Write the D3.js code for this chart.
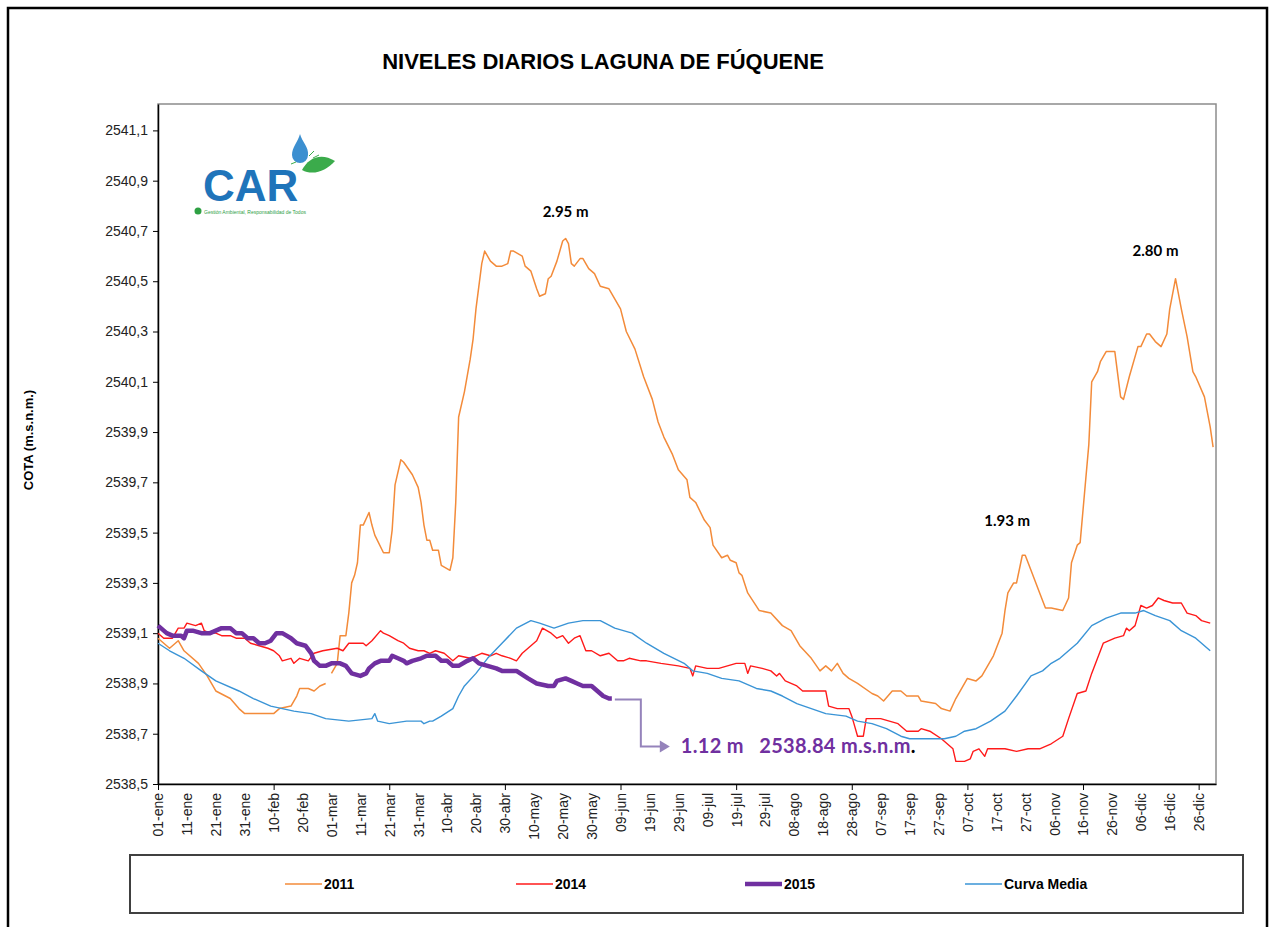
<!DOCTYPE html>
<html>
<head>
<meta charset="utf-8">
<script src="https://cdn.jsdelivr.net/npm/d3@7"></script>
<style>
  body { margin: 0; background: #fff; }
  svg text { font-family: "Liberation Sans", Arial, sans-serif; }
  .narrow { font-family: "Liberation Sans Narrow", "Arial Narrow", "Liberation Sans", sans-serif; }
</style>
</head>
<body>
<div id="chart"></div>
<script>
// dias desde el 01-ene (año bisiesto) y cota en m.s.n.m.
const serie2011 = [[0,2539.08],[4,2539.04],[7,2539.07],[9,2539.03],[14,2538.98],[17,2538.93],[20,2538.87],[25,2538.84],[28,2538.80],[30,2538.78],[34,2538.78],[40,2538.78],[42,2538.80],[46,2538.81],[48,2538.85],[49,2538.88],[52,2538.88],[54,2538.87],[56,2538.89],[58,2538.90],
  [59,null],
  [60,2538.94],[62,2538.98],[63,2539.09],[65,2539.09],[66,2539.18],[67,2539.30],[68,2539.33],[69,2539.38],[70,2539.53],[71,2539.53],[73,2539.58],[74,2539.53],[75,2539.49],[78,2539.42],[80,2539.42],[81,2539.51],[82,2539.69],[84,2539.79],[85,2539.78],[88,2539.73],[90,2539.68],[91,2539.62],[92,2539.53],[93,2539.47],[94,2539.47],[95,2539.43],[97,2539.43],[98,2539.37],[101,2539.35],[102,2539.40],[103,2539.62],[104,2539.96],[106,2540.06],[108,2540.19],[109,2540.27],[110,2540.39],[112,2540.57],[113,2540.62],[115,2540.58],[117,2540.56],[119,2540.56],[121,2540.57],[122,2540.62],[123,2540.62],[126,2540.60],[127,2540.56],[129,2540.54],[131,2540.47],[132,2540.44],[134,2540.45],[135,2540.51],[136,2540.52],[138,2540.58],[140,2540.66],[141,2540.67],[142,2540.65],[143,2540.57],[144,2540.56],[146,2540.59],[147,2540.59],[149,2540.55],[151,2540.53],[153,2540.48],[156,2540.47],[158,2540.43],[160,2540.39],[162,2540.30],[165,2540.23],[168,2540.12],[171,2540.03],[173,2539.94],[175,2539.88],[178,2539.81],[180,2539.75],[183,2539.71],[184,2539.64],[186,2539.62],[189,2539.55],[191,2539.52],[192,2539.45],[195,2539.40],[197,2539.41],[198,2539.39],[200,2539.38],[201,2539.34],[202,2539.33],[204,2539.26],[208,2539.19],[212,2539.18],[216,2539.13],[219,2539.11],[222,2539.05],[226,2539.00],[229,2538.95],[231,2538.97],[233,2538.95],[235,2538.98],[237,2538.94],[239,2538.92],[242,2538.90],[247,2538.86],[249,2538.85],[251,2538.83],[254,2538.87],[257,2538.87],[259,2538.85],[263,2538.85],[264,2538.83],[269,2538.82],[271,2538.80],[274,2538.79],[276,2538.84],[280,2538.92],[283,2538.91],[285,2538.93],[289,2539.01],[292,2539.10],[293,2539.19],[294,2539.26],[296,2539.30],[297,2539.30],[299,2539.41],[300,2539.41],[302,2539.35],[305,2539.26],[307,2539.20],[309,2539.20],[313,2539.19],[315,2539.24],[316,2539.38],[318,2539.45],[319,2539.46],[320,2539.59],[322,2539.85],[323,2540.10],[325,2540.14],[326,2540.18],[328,2540.22],[329,2540.22],[331,2540.22],[333,2540.04],[334,2540.03],[336,2540.12],[339,2540.24],[340,2540.24],[342,2540.29],[343,2540.29],[345,2540.26],[347,2540.24],[349,2540.29],[350,2540.39],[352,2540.51],[354,2540.39],[356,2540.28],[358,2540.14],[359,2540.12],[362,2540.04],[364,2539.92],[365,2539.84]];

const serie2014 = [[0,2539.10],[2,2539.08],[5,2539.08],[7,2539.12],[9,2539.12],[10,2539.14],[13,2539.13],[15,2539.14],[16,2539.11],[18,2539.10],[20,2539.10],[22,2539.09],[25,2539.09],[27,2539.08],[30,2539.08],[32,2539.06],[35,2539.05],[38,2539.04],[40,2539.03],[42,2539.01],[43,2538.99],[46,2539.00],[47,2538.98],[49,2539.00],[52,2538.99],[54,2539.02],[57,2539.03],[62,2539.04],[64,2539.03],[66,2539.06],[69,2539.06],[71,2539.06],[72,2539.05],[74,2539.07],[77,2539.11],[78,2539.10],[80,2539.09],[83,2539.07],[85,2539.06],[87,2539.04],[90,2539.03],[92,2539.03],[94,2539.02],[96,2539.03],[99,2539.02],[101,2539.00],[102,2538.99],[104,2539.01],[108,2539.00],[110,2539.01],[112,2539.02],[115,2539.01],[117,2539.02],[119,2539.01],[122,2539.00],[124,2538.99],[126,2539.02],[129,2539.05],[131,2539.07],[133,2539.12],[136,2539.10],[138,2539.08],[140,2539.09],[142,2539.06],[144,2539.08],[146,2539.09],[148,2539.03],[150,2539.03],[153,2539.01],[156,2539.02],[159,2538.99],[161,2538.99],[163,2539.00],[167,2538.99],[169,2538.99],[174,2538.98],[180,2538.97],[184,2538.96],[185,2538.93],[186,2538.97],[190,2538.96],[194,2538.96],[197,2538.97],[200,2538.98],[203,2538.98],[204,2538.94],[205,2538.97],[209,2538.96],[212,2538.95],[214,2538.93],[215,2538.94],[217,2538.91],[221,2538.89],[223,2538.87],[226,2538.87],[229,2538.87],[231,2538.87],[232,2538.81],[235,2538.80],[239,2538.80],[240,2538.77],[241,2538.73],[242,2538.69],[244,2538.69],[245,2538.76],[250,2538.76],[256,2538.74],[259,2538.71],[263,2538.71],[264,2538.72],[267,2538.71],[271,2538.68],[275,2538.64],[276,2538.59],[279,2538.59],[281,2538.60],[282,2538.63],[284,2538.64],[286,2538.61],[287,2538.64],[293,2538.64],[297,2538.63],[301,2538.64],[305,2538.64],[309,2538.66],[313,2538.69],[315,2538.76],[318,2538.86],[321,2538.87],[323,2538.94],[327,2539.06],[329,2539.07],[331,2539.08],[334,2539.09],[335,2539.12],[336,2539.11],[338,2539.13],[340,2539.21],[342,2539.20],[344,2539.21],[346,2539.24],[348,2539.23],[351,2539.22],[354,2539.22],[356,2539.18],[359,2539.17],[361,2539.15],[364,2539.14]];

const serie2015 = [[0,2539.13],[1,2539.12],[3,2539.10],[5,2539.09],[8,2539.09],[9,2539.08],[10,2539.11],[12,2539.11],[15,2539.10],[18,2539.10],[20,2539.11],[22,2539.12],[25,2539.12],[27,2539.10],[29,2539.10],[31,2539.08],[33,2539.08],[35,2539.06],[37,2539.06],[39,2539.07],[41,2539.10],[43,2539.10],[46,2539.08],[48,2539.06],[51,2539.05],[53,2539.02],[54,2538.99],[56,2538.97],[58,2538.97],[60,2538.98],[63,2538.98],[65,2538.97],[67,2538.94],[70,2538.93],[72,2538.94],[73,2538.96],[75,2538.98],[77,2538.99],[80,2538.99],[81,2539.01],[83,2539.00],[85,2538.99],[86,2538.98],[88,2538.99],[91,2539.00],[93,2539.01],[96,2539.01],[98,2538.99],[100,2538.99],[102,2538.97],[104,2538.97],[107,2538.99],[109,2539.00],[111,2538.98],[114,2538.97],[117,2538.96],[119,2538.95],[122,2538.95],[124,2538.95],[128,2538.92],[131,2538.90],[135,2538.89],[137,2538.89],[138,2538.91],[141,2538.92],[143,2538.91],[145,2538.90],[147,2538.89],[150,2538.89],[152,2538.87],[154,2538.85],[156,2538.84],[157,2538.84]];

const curvaMedia = [[0,2539.06],[4,2539.03],[9,2539.00],[15,2538.95],[20,2538.91],[28,2538.87],[33,2538.84],[39,2538.81],[47,2538.79],[53,2538.78],[58,2538.76],[66,2538.75],[74,2538.76],[75,2538.78],[76,2538.75],[80,2538.74],[86,2538.75],[91,2538.75],[92,2538.74],[94,2538.75],[95,2538.75],[98,2538.77],[102,2538.80],[104,2538.85],[106,2538.89],[110,2538.94],[114,2539.00],[119,2539.06],[124,2539.12],[129,2539.15],[132,2539.14],[137,2539.12],[142,2539.14],[147,2539.15],[153,2539.15],[158,2539.12],[164,2539.10],[169,2539.06],[175,2539.02],[182,2538.98],[185,2538.95],[190,2538.94],[195,2538.92],[201,2538.91],[207,2538.88],[212,2538.87],[216,2538.85],[221,2538.82],[226,2538.80],[231,2538.78],[238,2538.77],[242,2538.75],[247,2538.74],[252,2538.72],[257,2538.69],[260,2538.68],[266,2538.68],[272,2538.68],[276,2538.69],[279,2538.71],[283,2538.72],[288,2538.75],[293,2538.79],[297,2538.85],[302,2538.93],[306,2538.95],[309,2538.98],[312,2539.00],[315,2539.03],[318,2539.06],[323,2539.13],[328,2539.16],[333,2539.18],[338,2539.18],[341,2539.19],[345,2539.17],[350,2539.15],[354,2539.11],[359,2539.08],[364,2539.03]];

const etiquetasX = ["01-ene","11-ene","21-ene","31-ene","10-feb","20-feb","01-mar","11-mar","21-mar","31-mar","10-abr","20-abr","30-abr","10-may","20-may","30-may","09-jun","19-jun","29-jun","09-jul","19-jul","29-jul","08-ago","18-ago","28-ago","07-sep","17-sep","27-sep","07-oct","17-oct","27-oct","06-nov","16-nov","26-nov","06-dic","16-dic","26-dic"];
const ticksY = [2538.5, 2538.7, 2538.9, 2539.1, 2539.3, 2539.5, 2539.7, 2539.9, 2540.1, 2540.3, 2540.5, 2540.7, 2540.9, 2541.1];
const nombresSeries = ["2011", "2014", "2015", "Curva Media"];
const picos = [[141, 2540.67, "2.95 m"], [300, 2539.41, "1.93 m"], [352, 2540.51, "2.80 m"]];
const textoActual = ["1.12 m", "2538.84 m.s.n.m"];

const W = 1274, H = 927;
const mLeft = 158, mRight = 1216, mTop = 104, mBottom = 784;

const svg = d3.select("#chart").append("svg")
  .attr("width", W).attr("height", H);

// marco exterior
svg.append("rect").attr("x", 8).attr("y", 8).attr("width", 1259).attr("height", 940)
  .attr("fill", "none").attr("stroke", "#000").attr("stroke-width", 2.5);

const x = d3.scaleLinear().domain([0, 366]).range([mLeft, mRight]);
const y = d3.scaleLinear().domain([2538.5, 2541.205]).range([mBottom, mTop]);

svg.append("rect").attr("x", mLeft).attr("y", mTop)
  .attr("width", mRight - mLeft).attr("height", mBottom - mTop)
  .attr("fill", "none").attr("stroke", "#8c8c8c").attr("stroke-width", 1.5);

svg.append("text")
  .attr("x", 603).attr("y", 69)
  .attr("text-anchor", "middle")
  .style("font-size", "22px").style("font-weight", "bold")
  .text("NIVELES DIARIOS LAGUNA DE FÚQUENE");

// logo CAR
const logo = svg.append("g");
logo.append("path")
  .attr("d", "M300,134 C302,142 309,147 308,155 A8,8 0 0 1 292,155 C292,147 298,142 300,134 Z")
  .attr("fill", "#3c8fd0");
logo.append("path")
  .attr("d", "M302,170 C308,158 321,152 335,161 C326,171 313,176 302,170 Z")
  .attr("fill", "#3bab4b");
logo.append("path").attr("d", "M309,156 l5,-5 M313,158 l6,-3 M296,162 l-5,2")
  .attr("stroke", "#3bab4b").attr("stroke-width", 1).attr("fill", "none");
logo.append("text").attr("x", 203).attr("y", 201)
  .style("font-size", "44px").style("font-weight", "bold").attr("fill", "#1f74ba")
  .text("CAR");
logo.append("circle").attr("cx", 198).attr("cy", 211).attr("r", 3.5).attr("fill", "#2ea043");
logo.append("text").attr("x", 204).attr("y", 214)
  .style("font-size", "5px").attr("fill", "#2e9e45")
  .text("Gestión Ambiental, Responsabilidad de Todos");

// ejes
const xAxis = svg.append("g")
  .attr("transform", `translate(0,${mBottom})`)
  .call(d3.axisBottom(x)
    .tickValues(d3.range(0, 361, 10))
    .tickSize(6).tickSizeOuter(0)
    .tickFormat((d, i) => etiquetasX[i]));
xAxis.selectAll(".tick line").attr("y2", (d, i) => i % 4 === 0 ? 6 : 0);
xAxis.selectAll(".tick text")
  .attr("class", "narrow")
  .attr("transform", "rotate(-90)")
  .attr("x", -9).attr("y", 0).attr("dy", "0.35em")
  .style("text-anchor", "end").style("font-size", "14px").attr("fill", "#222");

const yAxis = svg.append("g")
  .attr("transform", `translate(${mLeft},0)`)
  .call(d3.axisLeft(y).tickValues(ticksY).tickSize(5).tickSizeOuter(0)
    .tickFormat(d => d3.format(".1f")(d).replace(".", ",")));
yAxis.selectAll(".tick text").attr("class", "narrow")
  .attr("x", -10).style("font-size", "14px").attr("fill", "#222");
svg.selectAll(".domain").attr("stroke", "#000").attr("stroke-width", 1.5);

svg.append("text").attr("class", "narrow")
  .attr("transform", "translate(33,440) rotate(-90)")
  .attr("text-anchor", "middle")
  .style("font-size", "13px").style("font-weight", "bold")
  .text("COTA (m.s.n.m.)");

// series
const line = d3.line()
  .defined(d => d[1] !== null)
  .x(d => x(d[0])).y(d => y(d[1]));

const series = [
  {datos: serie2011, color: "#f38b3a", ancho: 1.5},
  {datos: serie2014, color: "#ff1a1a", ancho: 1.4},
  {datos: curvaMedia, color: "#3a94d6", ancho: 1.4},
  {datos: serie2015, color: "#7030a0", ancho: 4.5}
];
series.forEach(s => {
  svg.append("path").datum(s.datos)
    .attr("fill", "none").attr("stroke", s.color)
    .attr("stroke-width", s.ancho).attr("stroke-linejoin", "round")
    .attr("d", line);
});

// etiquetas de los picos
const desfase = {"2.95 m": [0, -21], "1.93 m": [-18, -29], "2.80 m": [-20, -23]};
svg.selectAll(".pico").data(picos).enter().append("text")
  .attr("class", "pico")
  .attr("x", d => x(d[0]) + desfase[d[2]][0])
  .attr("y", d => y(d[1]) + desfase[d[2]][1])
  .attr("text-anchor", "middle")
  .style("font-family", "Lato, 'Open Sans', sans-serif")
  .style("font-size", "15px").style("font-weight", "bold")
  .text(d => d[2]);

// flecha del nivel actual
const ultimo = serie2015[serie2015.length - 1];
const px = x(ultimo[0]) + 3, py = y(ultimo[1]) + 1;
svg.append("path")
  .attr("d", `M${px},${py} H${px + 26} V${py + 47} H${px + 46}`)
  .attr("fill", "none").attr("stroke", "#9583bb").attr("stroke-width", 2);
svg.append("path")
  .attr("d", `M${px + 45},${py + 41} L${px + 55},${py + 47} L${px + 45},${py + 53} Z`)
  .attr("fill", "#9583bb");
const nota = svg.append("text")
  .attr("x", px + 66).attr("y", py + 53)
  .style("font-family", "Lato, 'Open Sans', sans-serif")
  .style("font-size", "20px").style("font-weight", "bold")
  .style("letter-spacing", "0.3px")
  .style("white-space", "pre").attr("fill", "#7030a0");
nota.append("tspan").text(textoActual[0] + "   " + textoActual[1]);
nota.append("tspan").attr("fill", "#000").text(".");

// leyenda
svg.append("rect").attr("x", 130).attr("y", 855).attr("width", 1113).attr("height", 58)
  .attr("fill", "none").attr("stroke", "#404040").attr("stroke-width", 2);
const posLeyenda = [285, 516, 745, 965];
const orden = [0, 1, 3, 2];
orden.forEach((si, k) => {
  const s = series[si];
  const g = svg.append("g").attr("transform", `translate(${posLeyenda[k]},884)`);
  g.append("line").attr("x1", 0).attr("x2", 37)
    .attr("stroke", s.color).attr("stroke-width", s.ancho);
  g.append("text").attr("x", 39).attr("dy", "0.35em")
    .attr("class", "narrow")
    .style("font-size", "14px").style("font-weight", "bold")
    .text(nombresSeries[k]);
});
</script>
</body>
</html>
